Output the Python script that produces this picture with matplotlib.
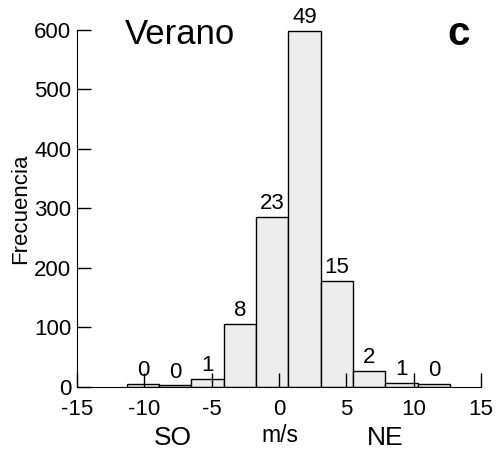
import matplotlib.pyplot as plt

plt.rcParams['font.family'] = ['Liberation Sans', 'DejaVu Sans']
plt.rcParams['axes.unicode_minus'] = False

# bins 2.4 m/s wide
bin_left = [-11.3, -8.9, -6.5, -4.1, -1.7, 0.7, 3.1, 5.5, 7.9, 10.3]
bin_width = 2.4
freq = [5, 2, 13, 105, 286, 598, 178, 26, 7, 4]
pct = ['0', '0', '1', '8', '23', '49', '15', '2', '1', '0']

fig = plt.figure(figsize=(4.96, 4.51), dpi=100)
ax = fig.add_axes([0.155, 0.1426, 0.815, 0.791])

bars = ax.bar(bin_left, freq, width=bin_width, align='edge',
              color='#ededed', edgecolor='black', linewidth=1.0)
for b, lab in zip(bars, pct):
    ax.text(b.get_x() + b.get_width() / 2, b.get_height() + 5, lab,
            ha='center', va='bottom', fontsize=16)

ax.set_xlim(-15, 15)
ax.set_ylim(0, 600)
ax.set_xticks([-15, -10, -5, 0, 5, 10, 15])
ax.set_yticks([0, 100, 200, 300, 400, 500, 600])
ax.tick_params(direction='in', length=10, width=1, labelsize=16)
ax.tick_params(axis='x', pad=9)
ax.tick_params(axis='y', pad=4)
ax.spines['top'].set_visible(False)
ax.spines['right'].set_visible(False)

ax.set_ylabel('Frecuencia', fontsize=16, labelpad=2)
fig.text(125 / 496, 1 - 44 / 451, 'Verano', fontsize=25,
         ha='left', va='baseline')
fig.text(459 / 496, 1 - 45 / 451, 'c', fontsize=29,
         fontweight='bold', ha='center', va='baseline')

fig.text(173 / 496, 1 - 445 / 451, 'SO', fontsize=19, ha='center', va='baseline')
fig.text(280 / 496, 1 - 442 / 451, 'm/s', fontsize=16.5, ha='center', va='baseline')
fig.text(385 / 496, 1 - 445 / 451, 'NE', fontsize=19, ha='center', va='baseline')

fig.savefig('out.png', dpi=100)
